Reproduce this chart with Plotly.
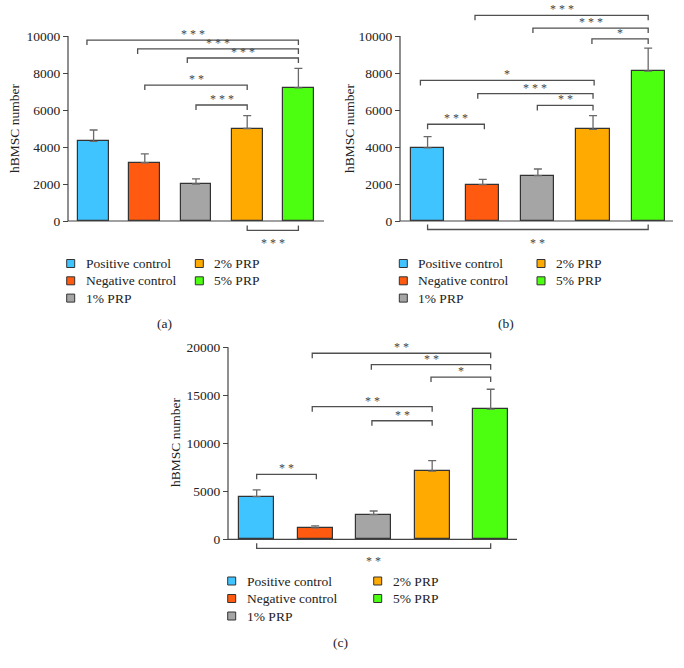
import plotly.graph_objects as go

groups = ["Positive control", "Negative control", "1% PRP", "2% PRP", "5% PRP"]
colors = ["#40C4FF", "#FF5A10", "#A5A5A5", "#FFAA00", "#4CFF10"]

a_mean = [4300, 3150, 2000, 5000, 7200]
a_err = [620, 480, 280, 700, 1050]
b_mean = [3950, 1970, 2450, 4950, 8100]
b_err = [610, 280, 360, 750, 1250]
c_mean = [4450, 1180, 2570, 7100, 13550]
c_err = [690, 210, 380, 1100, 2080]

# significance brackets: left bar, right bar, height, stars
a_sig = [(-0.13, 4, 9780, "***"), (0.86, 4, 9300, "***"), (1.83, 4, 8810, "***"),
         (1, 3, 7350, "**"), (2, 3, 6270, "***")]
a_below = (3, 4, -510, "***")
b_sig = [(0.86, 4, 11120, "***"), (1.91, 4, 10430, "***"), (2.98, 4, 9840, "*"),
         (-0.13, 3.02, 7600, "*"), (0.91, 3, 6880, "***"), (1.99, 3, 6250, "**"),
         (0, 1.03, 5230, "***")]
b_below = (0, 4, -460, "**")
c_sig = [(0.95, 4, 19380, "**"), (1.96, 4, 18190, "**"), (2.98, 4, 16900, "*"),
         (0.95, 3, 13810, "**"), (1.97, 3, 12350, "**"), (0, 1.02, 6770, "**")]
c_below = (0, 4, -940, "**")

W, H = 684, 668
FONT = "Liberation Serif, serif"
LINE = "#505050"


def stars(s):
    return " ".join(s)


def paper_text(fig, px, py, text, **kw):
    kw.setdefault("xanchor", "center")
    fig.add_annotation(x=px / W, y=1 - py / H, xref="paper", yref="paper", text=text,
                       showarrow=False, yanchor="middle",
                       font=dict(family=FONT, size=13.5, color="#222"), **kw)


def add_panel(fig, n, mean, err, sig, below, box, label, ytitle_pos, legend_pos):
    # box: axis left/right px, index range, zero px, top tick px, top value, tick step, clip top/bottom px
    xl, xr, xlo, xhi, z, t, tv, step, top, bot = box
    sx = "" if n == 1 else str(n)
    xa, ya = "x" + sx, "y" + sx
    u = (xr - xl) / (xhi - xlo)
    v = (z - t) / tv
    pad = 6

    fig.add_trace(go.Bar(
        x=list(range(5)), y=mean, width=0.6, xaxis=xa, yaxis=ya,
        marker=dict(color=colors, line=dict(color="#333333", width=1.2)),
        error_y=dict(type="data", symmetric=False, array=err, arrayminus=[0] * 5,
                     color="#6a6a6a", thickness=1.3, width=4),
        showlegend=False))

    fig.update_layout({
        "xaxis" + sx: dict(domain=[(xl - pad) / W, (xr + pad) / W],
                           range=[xlo - pad / u, xhi + pad / u],
                           visible=False, anchor=ya),
        "yaxis" + sx: dict(domain=[1 - bot / H, 1 - top / H],
                           range=[-(bot - z) / v, (z - top) / v],
                           anchor="free", position=xl / W,
                           tickvals=list(range(0, tv + 1, step)), tickformat="d",
                           ticks="outside", ticklen=5, tickcolor="#444", tickwidth=1,
                           showgrid=False, zeroline=False, showline=False,
                           tickfont=dict(family=FONT, size=13.5, color="#222"))})

    # axis lines
    fig.add_shape(type="line", xref=xa, yref=ya, x0=xlo, x1=xlo, y0=0, y1=tv,
                  line=dict(color="#444", width=1.2))
    fig.add_shape(type="line", xref=xa, yref=ya, x0=xlo, x1=xhi, y0=0, y1=0,
                  line=dict(color="#444", width=1.2))

    leg = 5 / v
    for x0, x1, h, s in sig:
        fig.add_shape(type="path", xref=xa, yref=ya,
                      path=f"M{x0},{h - leg} L{x0},{h} L{x1},{h} L{x1},{h - leg}",
                      line=dict(color=LINE, width=1.3))
        fig.add_annotation(x=(x0 + x1) / 2, y=h, xref=xa, yref=ya, text=stars(s),
                           showarrow=False, xanchor="center", yanchor="bottom", yshift=-3,
                           font=dict(family=FONT, size=12, color="#444"))
    x0, x1, h, s = below
    fig.add_shape(type="path", xref=xa, yref=ya,
                  path=f"M{x0},{h + leg} L{x0},{h} L{x1},{h} L{x1},{h + leg}",
                  line=dict(color=LINE, width=1.3))
    fig.add_annotation(x=(x0 + x1) / 2, y=h, xref=xa, yref=ya, text=stars(s),
                       showarrow=False, xanchor="center", yanchor="top", yshift=-4,
                       font=dict(family=FONT, size=12, color="#444"))

    paper_text(fig, ytitle_pos[0], ytitle_pos[1], "hBMSC number", textangle=-90)

    # legend
    lx1, lx2, ly, dy = legend_pos
    spots = [(lx1, ly), (lx1, ly + dy), (lx1, ly + 2 * dy), (lx2, ly), (lx2, ly + dy)]
    for (px, py), name, col in zip(spots, groups, colors):
        fig.add_shape(type="rect", xref="paper", yref="paper",
                      x0=(px - 4) / W, x1=(px + 4) / W, y0=1 - (py + 4) / H, y1=1 - (py - 4) / H,
                      fillcolor=col, line=dict(color="#333", width=1))
        paper_text(fig, px + 13, py, name, xanchor="left")

    paper_text(fig, label[1], label[2], label[0])


fig = go.Figure()
add_panel(fig, 1, a_mean, a_err, a_sig, a_below,
          (68, 324, -0.5, 4.5, 221, 36, 10000, 2000, 6, 250),
          ("(a)", 164, 324), (15, 129), (70.7, 199.3, 263.5, 17.3))
add_panel(fig, 2, b_mean, b_err, b_sig, b_below,
          (400, 673, -0.5, 4.45, 221, 36, 10000, 2000, 6, 250),
          ("(b)", 506, 324), (350, 129), (403.3, 541, 263.5, 17.3))
add_panel(fig, 3, c_mean, c_err, c_sig, c_below,
          (228, 517, -0.49, 4.45, 539.3, 347.3, 20000, 5000, 340, 570),
          ("(c)", 340, 642), (175, 443), (231.7, 377.7, 581, 17.5))

fig.update_layout(width=W, height=H, margin=dict(l=0, r=0, t=0, b=0),
                  plot_bgcolor="white", paper_bgcolor="white", bargap=0)
fig.write_html("out.html", config={"displayModeBar": False},
               post_script="document.body.style.margin='0';")
